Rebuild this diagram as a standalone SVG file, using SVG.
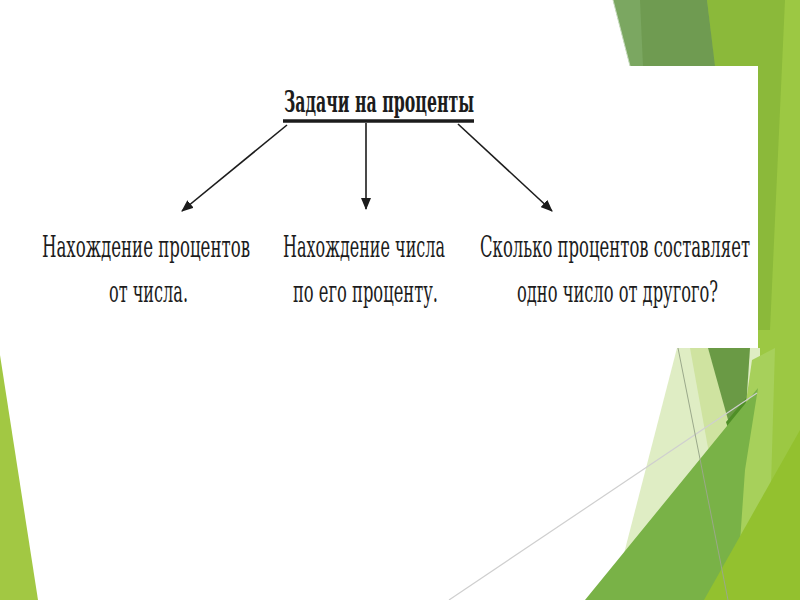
<svg xmlns="http://www.w3.org/2000/svg" width="800" height="600" viewBox="0 0 800 600">
<style>
.t{font-family:"DejaVu Serif","Liberation Serif",serif;font-stretch:condensed;font-size:30px;fill:#1c1c1c}
.b{font-weight:bold;font-size:29px}
.c{stroke:#1c1c1c;stroke-width:1.6;fill:none}
</style>
<defs>
<marker id="ah" viewBox="0 0 12 10" refX="11" refY="5" markerWidth="12" markerHeight="10" markerUnits="userSpaceOnUse" orient="auto">
<path d="M0,0 L12,5 L0,10 Z" fill="#1c1c1c"/>
</marker>
</defs>
<rect width="800" height="600" fill="#ffffff"/>
<g id="background">
<polygon points="705,0 800,0 800,600 720,600 738,348" fill="#9cc843"/>
<polygon points="707,0 785,0 770,330 745,330" fill="#8bb93a"/>
<polygon points="613,0 707,0 715,66 630,66" fill="#6f9b51"/>
<polygon points="613,0 640,0 643,66 630,66" fill="#7ba761"/>
<line x1="613" y1="0" x2="630" y2="66" stroke="#c9dcc0" stroke-width="1"/>
<polygon points="677,348 760,348 760,600 612,600" fill="#dfedc4"/>
<polygon points="690,348 708,348 736,440 712,470" fill="#cfe3a0"/>
<polygon points="752,360 775,348 770,520 738,560 742,430" fill="#a7d05b"/>
<polygon points="708,348 750,348 742,470" fill="#6a9a45"/>
<polygon points="726,422 746,398 742,470" fill="#4f8f27"/>
<polygon points="585,600 758,388 745,470 736,600" fill="#79b247"/>
<polygon points="704,600 800,430 800,600" fill="#93c12f"/>
<line x1="449" y1="600" x2="757" y2="393" stroke="#cfcfcf" stroke-width="1.2"/>
<line x1="678" y1="348" x2="728" y2="600" stroke="#9aa88a" stroke-width="1"/>
<polygon points="0,355 38,600 0,600" fill="#a2c843"/>
<rect x="18" y="66" width="740" height="282" fill="#ffffff"/>
</g>
<g id="title">
<text class="t b" x="284" y="112" textLength="190" lengthAdjust="spacingAndGlyphs">Задачи на проценты</text>
<line x1="283" y1="121" x2="474" y2="121" stroke="#1c1c1c" stroke-width="3.5"/>
</g>
<g id="connectors">
<line class="c" x1="287" y1="125" x2="182" y2="211" marker-end="url(#ah)"/>
<line class="c" x1="366" y1="123" x2="366" y2="209" marker-end="url(#ah)"/>
<line class="c" x1="458" y1="124" x2="552" y2="211" marker-end="url(#ah)"/>
</g>
<g id="node1">
<text class="t" x="42" y="257" textLength="208" lengthAdjust="spacingAndGlyphs">Нахождение процентов</text>
<text class="t" x="109" y="302" textLength="79" lengthAdjust="spacingAndGlyphs">от числа.</text>
</g>
<g id="node2">
<text class="t" x="283" y="257" textLength="162" lengthAdjust="spacingAndGlyphs">Нахождение числа</text>
<text class="t" x="293" y="302" textLength="145" lengthAdjust="spacingAndGlyphs">по его проценту.</text>
</g>
<g id="node3">
<text class="t" x="480" y="257" textLength="270" lengthAdjust="spacingAndGlyphs">Сколько процентов составляет</text>
<text class="t" x="517" y="302" textLength="201" lengthAdjust="spacingAndGlyphs">одно число от другого?</text>
</g>
</svg>
